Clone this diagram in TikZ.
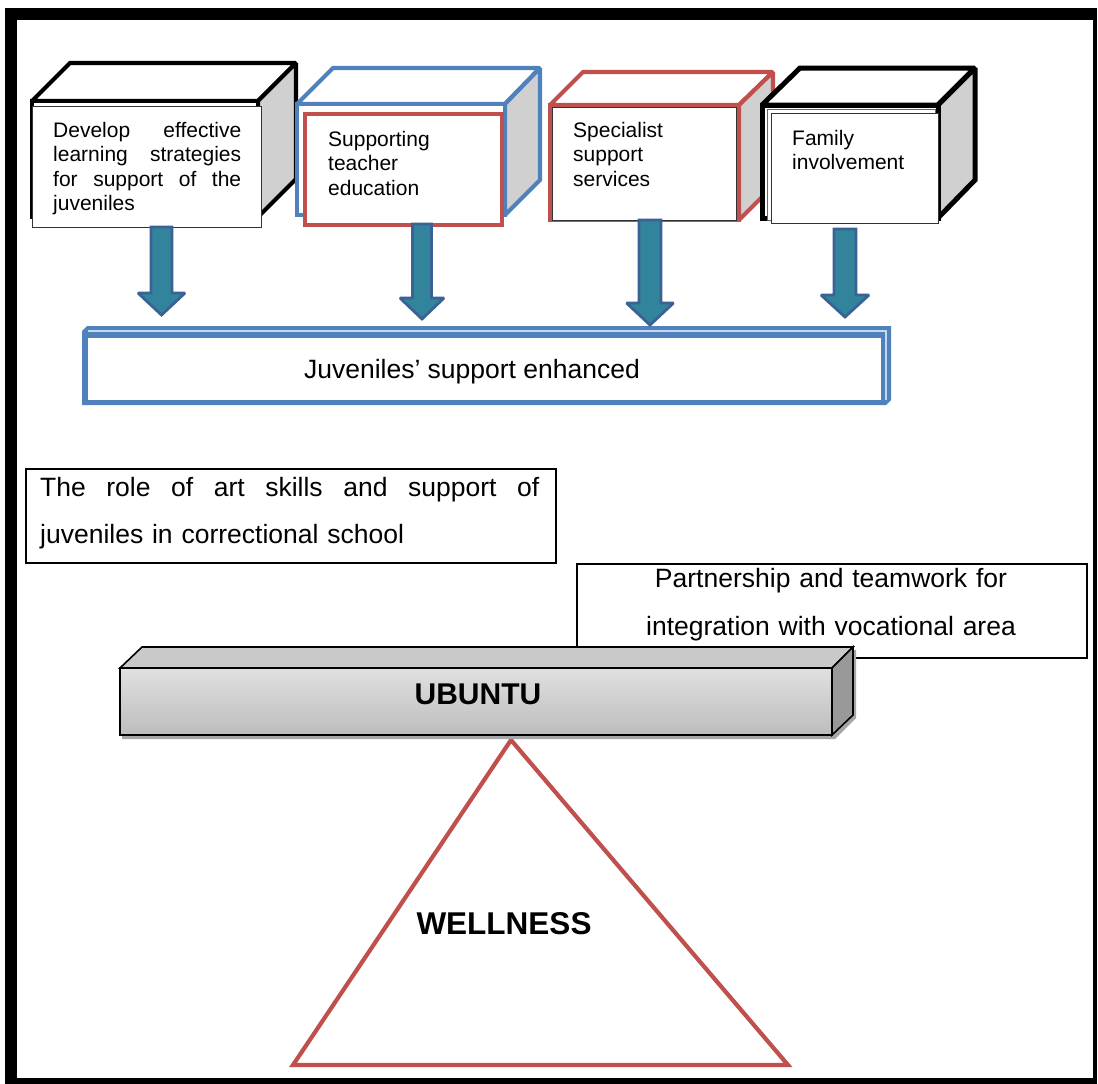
\documentclass[tikz,border=0pt]{standalone}
\usepackage{fontspec}
\setmainfont{Liberation Sans}
\definecolor{cblue}{HTML}{4F81BD}
\definecolor{cred}{HTML}{C0504D}
\definecolor{ateal}{HTML}{31849B}
\definecolor{aedge}{HTML}{3B6294}
\definecolor{lightb}{HTML}{C6D9F1}
\definecolor{sidegray}{HTML}{D0D0D0}
\newcommand\blkarrow[5]{%
  \draw[barrow] (#1) ++(-#4,0) -- ++(0,#2) -- ++(#4-#5,0) -- ++(#5,#3) -- ++(#5,-#3) -- ++(#4-#5,0) -- ++(0,-#2) -- cycle;}
\begin{document}
\begin{tikzpicture}[x=1pt,y=-1pt,
  cubeface/.style={fill=white,line join=miter,miter limit=1.6},
  cubeside/.style={fill=sidegray,line join=miter,miter limit=1.6},
  tbox/.style={draw=black!80,line width=1.2pt,fill=white,anchor=north west,inner sep=0pt},
  ctext/.style={font=\fontsize{21}{24.5}\selectfont,align=left,anchor=north west,inner sep=0pt},
  btext/.style={font=\fontsize{26.5}{47}\selectfont,inner sep=0pt},
  barrow/.style={fill=ateal,draw=aedge,line width=2.8pt,line join=miter,miter limit=2.5},
  plainbox/.style={draw=black,line width=2pt,fill=white,anchor=north west,inner sep=0pt}]
\useasboundingbox (0,0) rectangle (1098,1084);
\fill[white] (0,0) rectangle (1098,1084);
% frame
\fill[black] (5,8) rectangle (1097,20);
\fill[black] (5,8) rectangle (17,1084);
\fill[black] (5,1078) rectangle (1097,1084);
\fill[black] (1093,8) rectangle (1097,1084);

% cube 1 (black)
\begin{scope}[draw=black,line width=4.2pt]
\draw[cubeface] (32,101) -- (70,63) -- (296,63) -- (258,101) -- cycle;
\draw[cubeside] (258,101) -- (296,63) -- (296,179) -- (258,217) -- cycle;
\draw[cubeface] (32,101) rectangle (258,217);
\end{scope}
\node[tbox,minimum width=229pt,minimum height=121pt] (t1) at (32,106) {};
\node[ctext,text width=188pt] (l1) at (53,119.85) {\strut Develop\hfill effective\\learning\hfill strategies\\for\hfill support\hfill of\hfill the\\juveniles};

% cube 2 (blue)
\begin{scope}[draw=cblue,line width=4.2pt]
\draw[cubeface] (297,104) -- (333,68) -- (540,68) -- (505,104) -- cycle;
\draw[cubeside] (505,104) -- (540,68) -- (540,180) -- (505,215) -- cycle;
\draw[cubeface] (297,104) rectangle (505,215);
\end{scope}
\node[tbox,draw=cred,line width=4pt,minimum width=197pt,minimum height=111pt] (t2) at (303,112) {};
\node[ctext] (l2) at (328,128.85) {\strut Supporting\\teacher\\education};

% cube 3 (red)
\begin{scope}[draw=cred,line width=4.2pt]
\draw[cubeface] (550,105) -- (583,72) -- (773,72) -- (739,105) -- cycle;
\draw[cubeside] (739,105) -- (773,72) -- (773,186) -- (739,220) -- cycle;
\draw[cubeface] (550,105) rectangle (739,220);
\end{scope}
\node[tbox,minimum width=184pt,minimum height=113pt] (t3) at (552,107) {};
\node[ctext] (l3) at (573,119.85) {\strut Specialist\\support\\services};

% cube 4 (black)
\begin{scope}[draw=black,line width=5pt]
\draw[cubeface] (762,105) -- (800,68) -- (975,68) -- (938,105) -- cycle;
\draw[cubeside] (938,105) -- (975,68) -- (975,180) -- (938,218) -- cycle;
\draw[cubeface] (762,105) rectangle (938,218);
\end{scope}
\node[tbox,draw=black!60,line width=1pt,minimum width=168pt,minimum height=111pt] (t4b) at (767,109) {};
\node[tbox,minimum width=167pt,minimum height=110pt] (t4) at (771,113) {};
\node[ctext] (l4) at (792,127.85) {\strut Family\\involvement};

% target box: Juveniles' support enhanced
\fill[cblue] (82,331) -- (87,326) -- (891,326) -- (891,400) -- (886,405) -- (82,405) -- cycle;
\draw[lightb,line width=1.2pt] (88,331) -- (886,331) -- (886,400);
\node[fill=white,anchor=north west,inner sep=0pt,minimum width=793pt,minimum height=62pt] (J) at (88,338) {};
\node[btext,anchor=base] (Jt) at (472,378) {Juveniles’ support enhanced};

% block arrows from the four boxes towards J
\coordinate (a1) at (161.5,227);
\coordinate (a2) at (422,224);
\coordinate (a3) at (650,220);
\coordinate (a4) at (845,229);
\blkarrow{a1}{66}{22}{10.5}{23.5}
\blkarrow{a2}{74}{21}{9.5}{22}
\blkarrow{a3}{83}{22}{11}{23.5}
\blkarrow{a4}{66}{22}{11}{24}

% role box
\node[plainbox,minimum width=530pt,minimum height=94pt] (R) at (25,468) {};
\node[btext,text width=499pt,align=left,anchor=north west] (Rt) at (40,463.1) {\strut The\hfill role\hfill of\hfill art\hfill skills\hfill and\hfill support\hfill of\\juveniles in correctional school};

% partnership box
\node[plainbox,minimum width=510pt,minimum height=94pt] (P) at (576,563) {};
\node[btext,font=\fontsize{26.5}{48}\selectfont,text width=500pt,align=center,anchor=north] (Pt) at (831,553.4) {\strut Partnership and teamwork for\\integration with vocational area};

% triangle WELLNESS
\draw[cred,line width=4.2pt,line join=miter,miter limit=3] (511,740) -- (293,1065) -- (788,1065) -- cycle;
\node[font=\fontsize{31.5}{36}\selectfont\bfseries,anchor=base,inner sep=0pt] (W) at (504,934) {WELLNESS};

% UBUNTU bar
\fill[black!35] (122,671) -- (144,650) -- (856,650) -- (856,718) -- (835,739) -- (122,739) -- cycle;
\draw[black,line width=1.6pt,fill=black!21] (120,668) -- (142,647) -- (853,647) -- (832,668) -- cycle;
\draw[black,line width=1.6pt,fill=black!40] (832,668) -- (853,647) -- (853,715) -- (832,735) -- cycle;
\draw[black,line width=1.6pt,top color=black!12,bottom color=black!26] (120,668) rectangle (832,735);
\node[font=\fontsize{30}{36}\selectfont\bfseries,anchor=base,inner sep=0pt] (U) at (478,704) {UBUNTU};
\end{tikzpicture}
\end{document}
